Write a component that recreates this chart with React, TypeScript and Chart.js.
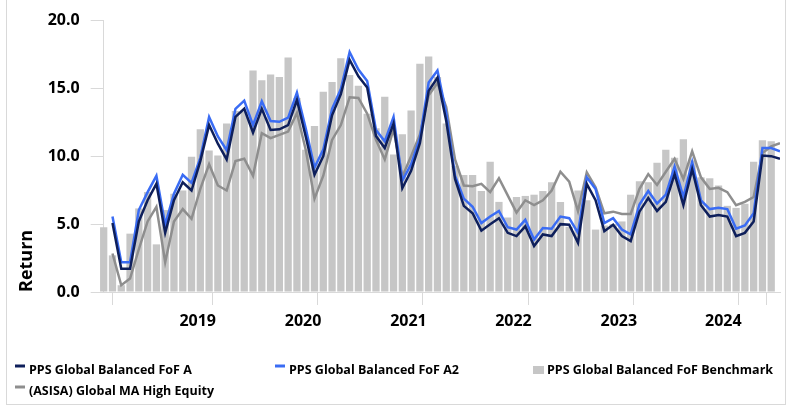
import React, { useEffect, useRef } from 'react';
import { Chart, registerables } from 'chart.js';

Chart.register(...registerables);

// Monthly observations, index 0..77
const benchmark: (number | null)[] = [
  4.77, 2.7, 0.5, 4.3, 6.16, 7.36, 3.51, 6.04, 7.24, 7.48,
  9.96, 11.99, 10.42, 10.06, 12.42, 13.33, 13.26, 16.32, 15.6, 16.03,
  15.84, 17.28, 14.3, 10.49, 12.23, 14.75, 15.48, 17.23, 16.0, 15.19,
  13.14, 12.06, 14.39, 10.13, 11.62, 13.38, 16.82, 17.35, 15.84, 12.42,
  9.3, 8.62, 8.62, 7.44, 9.6, 6.64, 5.49, 7.0, 7.08, 7.17,
  7.44, 8.09, 6.64, 4.8, 7.48, 6.76, 4.6, 4.9, 5.0, 5.2,
  7.17, 8.16, 8.09, 9.53, 10.49, 9.9, 11.26, 9.7, 8.45, 8.38,
  7.85, 6.35, 6.2, 6.5, 9.6, 11.19, 11.1, null,
];

const fundA: (number | null)[] = [
  null, 5.08, 1.71, 1.71, 5.2, 6.76, 7.97, 4.36, 6.76, 8.09,
  7.48, 9.65, 12.3, 10.93, 9.77, 12.9, 13.5, 11.75, 13.5, 11.94,
  11.99, 12.3, 14.15, 11.46, 8.64, 10.01, 13.02, 14.58, 17.11, 15.9,
  15.07, 11.5, 10.61, 12.42, 7.65, 8.93, 10.97, 14.82, 15.79, 12.6,
  8.33, 6.35, 5.8, 4.52, 5.0, 5.44, 4.36, 4.12, 4.84, 3.39,
  4.24, 4.12, 5.0, 4.96, 3.63, 7.97, 6.76, 4.48, 4.96, 4.12,
  3.75, 5.92, 6.93, 5.97, 6.64, 8.69, 6.4, 9.05, 6.4, 5.56,
  5.68, 5.56, 4.12, 4.36, 5.2, 10.06, 10.01, 9.82,
];

const fundA2: (number | null)[] = [
  null, 5.56, 2.19, 2.19, 6.04, 7.36, 8.56, 4.96, 7.24, 8.64,
  8.04, 9.89, 12.9, 11.46, 10.45, 13.5, 14.1, 12.3, 14.06, 12.6,
  12.54, 12.85, 14.7, 12.06, 9.17, 10.49, 13.5, 14.95, 17.67, 16.39,
  15.55, 11.94, 11.1, 12.9, 8.21, 9.41, 11.34, 15.43, 16.32, 13.2,
  8.57, 6.88, 6.28, 5.08, 5.56, 5.97, 4.77, 4.6, 5.32, 3.87,
  4.72, 4.67, 5.56, 5.44, 4.36, 8.45, 7.6, 5.08, 5.44, 4.6,
  4.24, 6.45, 7.44, 6.52, 7.17, 9.24, 7.0, 9.58, 6.76, 6.11,
  6.21, 6.11, 4.67, 4.91, 5.8, 10.61, 10.61, 10.37,
];

const asisa: (number | null)[] = [
  null, 2.84, 0.5, 0.99, 3.15, 5.2, 6.28, 2.19, 5.2, 6.11,
  5.39, 7.6, 9.41, 7.85, 7.48, 9.65, 9.82, 8.57, 11.7, 11.34,
  11.58, 11.82, 13.19, 10.49, 6.88, 8.57, 11.21, 12.3, 14.35, 14.3,
  13.14, 11.21, 9.77, 12.0, 8.5, 10.0, 11.6, 14.5, 15.4, 13.62,
  9.77, 7.85, 7.8, 7.97, 7.36, 8.38, 7.12, 5.85, 6.76, 6.4,
  6.76, 7.48, 8.86, 8.14, 5.97, 8.81, 7.72, 5.8, 5.92, 5.75,
  5.75, 7.6, 8.69, 7.89, 8.86, 9.82, 8.33, 10.37, 8.45, 7.6,
  7.68, 7.36, 6.4, 6.64, 7.0, 10.25, 10.73, 10.97,
];

const seriesNames = [
  'PPS Global Balanced FoF A',
  'PPS Global Balanced FoF A2',
  'PPS Global Balanced FoF Benchmark',
  '(ASISA) Global MA High Equity',
];

const yearLabels = ['2019', '2020', '2021', '2022', '2023', '2024'];
const yearLabelAt = [10.7, 22.7, 34.7, 46.65, 58.65, 70.55];
const tickMarkAt = [0, 2, 14, 26, 38, 50, 62, 74, 77];
const yTicks = [0, 5, 10, 15, 20];

const FONT = "'Open Sans', 'Noto Sans', sans-serif";

const toPoints = (arr: (number | null)[]) => arr.map((v, i) => ({ x: i, y: v }));

const gridLegend = {
  id: 'gridLegend',
  afterDraw(chart: any, _args: any, opts: any) {
    const ctx = chart.ctx as CanvasRenderingContext2D;
    ctx.save();
    ctx.font = opts.font;
    ctx.textBaseline = 'middle';
    ctx.textAlign = 'left';
    (opts.items as any[]).forEach((it) => {
      const ds = chart.data.datasets[it.dataset];
      const x = opts.columns[it.col];
      const y = opts.rows[it.row];
      if (ds.type === 'bar') {
        ctx.fillStyle = ds.backgroundColor;
        ctx.fillRect(x, y - 4, 11, 8);
      } else {
        ctx.strokeStyle = ds.borderColor;
        ctx.lineWidth = 3;
        ctx.beginPath();
        ctx.moveTo(x, y - 4);
        ctx.lineTo(x + 10, y - 4);
        ctx.stroke();
      }
      ctx.fillStyle = '#000';
      ctx.fillText(ds.label, x + 14, y);
    });
    ctx.restore();
  },
};

export default function App() {
  const ref = useRef<HTMLCanvasElement>(null);

  useEffect(() => {
    if (!ref.current) return;
    const tickFont = { family: FONT, size: 16, weight: 'bold' as const };
    const chart = new Chart(ref.current, {
      type: 'bar',
      data: {
        datasets: [
          {
            type: 'line',
            label: seriesNames[0],
            data: toPoints(fundA),
            borderColor: '#0e1f5b',
            backgroundColor: '#0e1f5b',
            borderWidth: 2.5,
            pointRadius: 0,
            tension: 0,
            order: 1,
          } as any,
          {
            type: 'line',
            label: seriesNames[1],
            data: toPoints(fundA2),
            borderColor: '#3a6cf4',
            backgroundColor: '#3a6cf4',
            borderWidth: 2.5,
            pointRadius: 0,
            tension: 0,
            order: 2,
          } as any,
          {
            type: 'bar',
            label: seriesNames[2],
            data: toPoints(benchmark),
            backgroundColor: '#c6c6c6',
            borderWidth: 0,
            categoryPercentage: 1,
            barPercentage: 0.83,
            clip: false,
            order: 4,
          } as any,
          {
            type: 'line',
            label: seriesNames[3],
            data: toPoints(asisa),
            borderColor: '#8e8e8e',
            backgroundColor: '#8e8e8e',
            borderWidth: 2.5,
            pointRadius: 0,
            tension: 0,
            order: 3,
          } as any,
        ],
      },
      options: {
        responsive: false,
        animation: false,
        devicePixelRatio: 1,
        layout: { padding: { top: 15, right: 9, left: 0, bottom: 0 } },
        plugins: {
          legend: { display: false },
          tooltip: { enabled: false },
          gridLegend: {
            font: `bold 12.5px ${FONT}`,
            columns: [15, 275, 533],
            rows: [370, 391],
            items: [
              { dataset: 0, col: 0, row: 0 },
              { dataset: 1, col: 1, row: 0 },
              { dataset: 2, col: 2, row: 0 },
              { dataset: 3, col: 0, row: 1 },
            ],
          },
        } as any,
        scales: {
          x: {
            type: 'linear',
            min: 0,
            max: 77,
            offset: false,
            afterBuildTicks: (scale: any) => {
              const vals = [...tickMarkAt, ...yearLabelAt].sort((a, b) => a - b);
              scale.ticks = vals.map((v) => ({ value: v }));
            },
            afterFit: (scale: any) => {
              scale.height = 116;
            },
            grid: {
              drawOnChartArea: false,
              drawTicks: true,
              tickLength: 13,
              lineWidth: 1,
              color: (c: any) =>
                c.tick && tickMarkAt.includes(c.tick.value) ? '#d9d9d9' : 'rgba(0,0,0,0)',
            },
            border: { display: true, color: '#d9d9d9' },
            ticks: {
              autoSkip: false,
              maxRotation: 0,
              minRotation: 0,
              padding: 7,
              color: '#000',
              font: tickFont,
              callback: (v: any) => {
                const k = yearLabelAt.indexOf(Number(v));
                return k >= 0 ? yearLabels[k] : '';
              },
            },
          },
          y: {
            type: 'linear',
            min: 0,
            max: 20,
            afterBuildTicks: (scale: any) => {
              scale.ticks = yTicks.map((v) => ({ value: v }));
            },
            afterFit: (scale: any) => {
              scale.width = 103.7;
            },
            grid: { drawOnChartArea: false, drawTicks: true, tickLength: 13, color: '#d9d9d9' },
            border: { display: true, color: '#d9d9d9' },
            ticks: {
              padding: 11,
              color: '#000',
              font: tickFont,
              callback: (v: any) => Number(v).toFixed(1),
            },
            title: {
              display: true,
              text: 'Return',
              align: 'start',
              color: '#000',
              font: { family: FONT, size: 18, weight: 'bold' },
              padding: { top: 16, bottom: 0 },
            },
          },
        },
      } as any,
      plugins: [gridLegend as any],
    });
    return () => chart.destroy();
  }, []);

  return (
    <div
      style={{
        position: 'absolute',
        left: 0,
        top: 0,
        width: 789,
        height: 408,
        overflow: 'hidden',
        background: '#fff',
      }}
    >
      <div
        style={{
          position: 'absolute',
          left: 6,
          top: -2,
          width: 780,
          height: 407,
          border: '1px solid #d9d9d9',
          boxSizing: 'border-box',
        }}
      />
      <canvas
        ref={ref}
        width={789}
        height={408}
        style={{ position: 'absolute', left: 0, top: 0, display: 'block' }}
      />
    </div>
  );
}
